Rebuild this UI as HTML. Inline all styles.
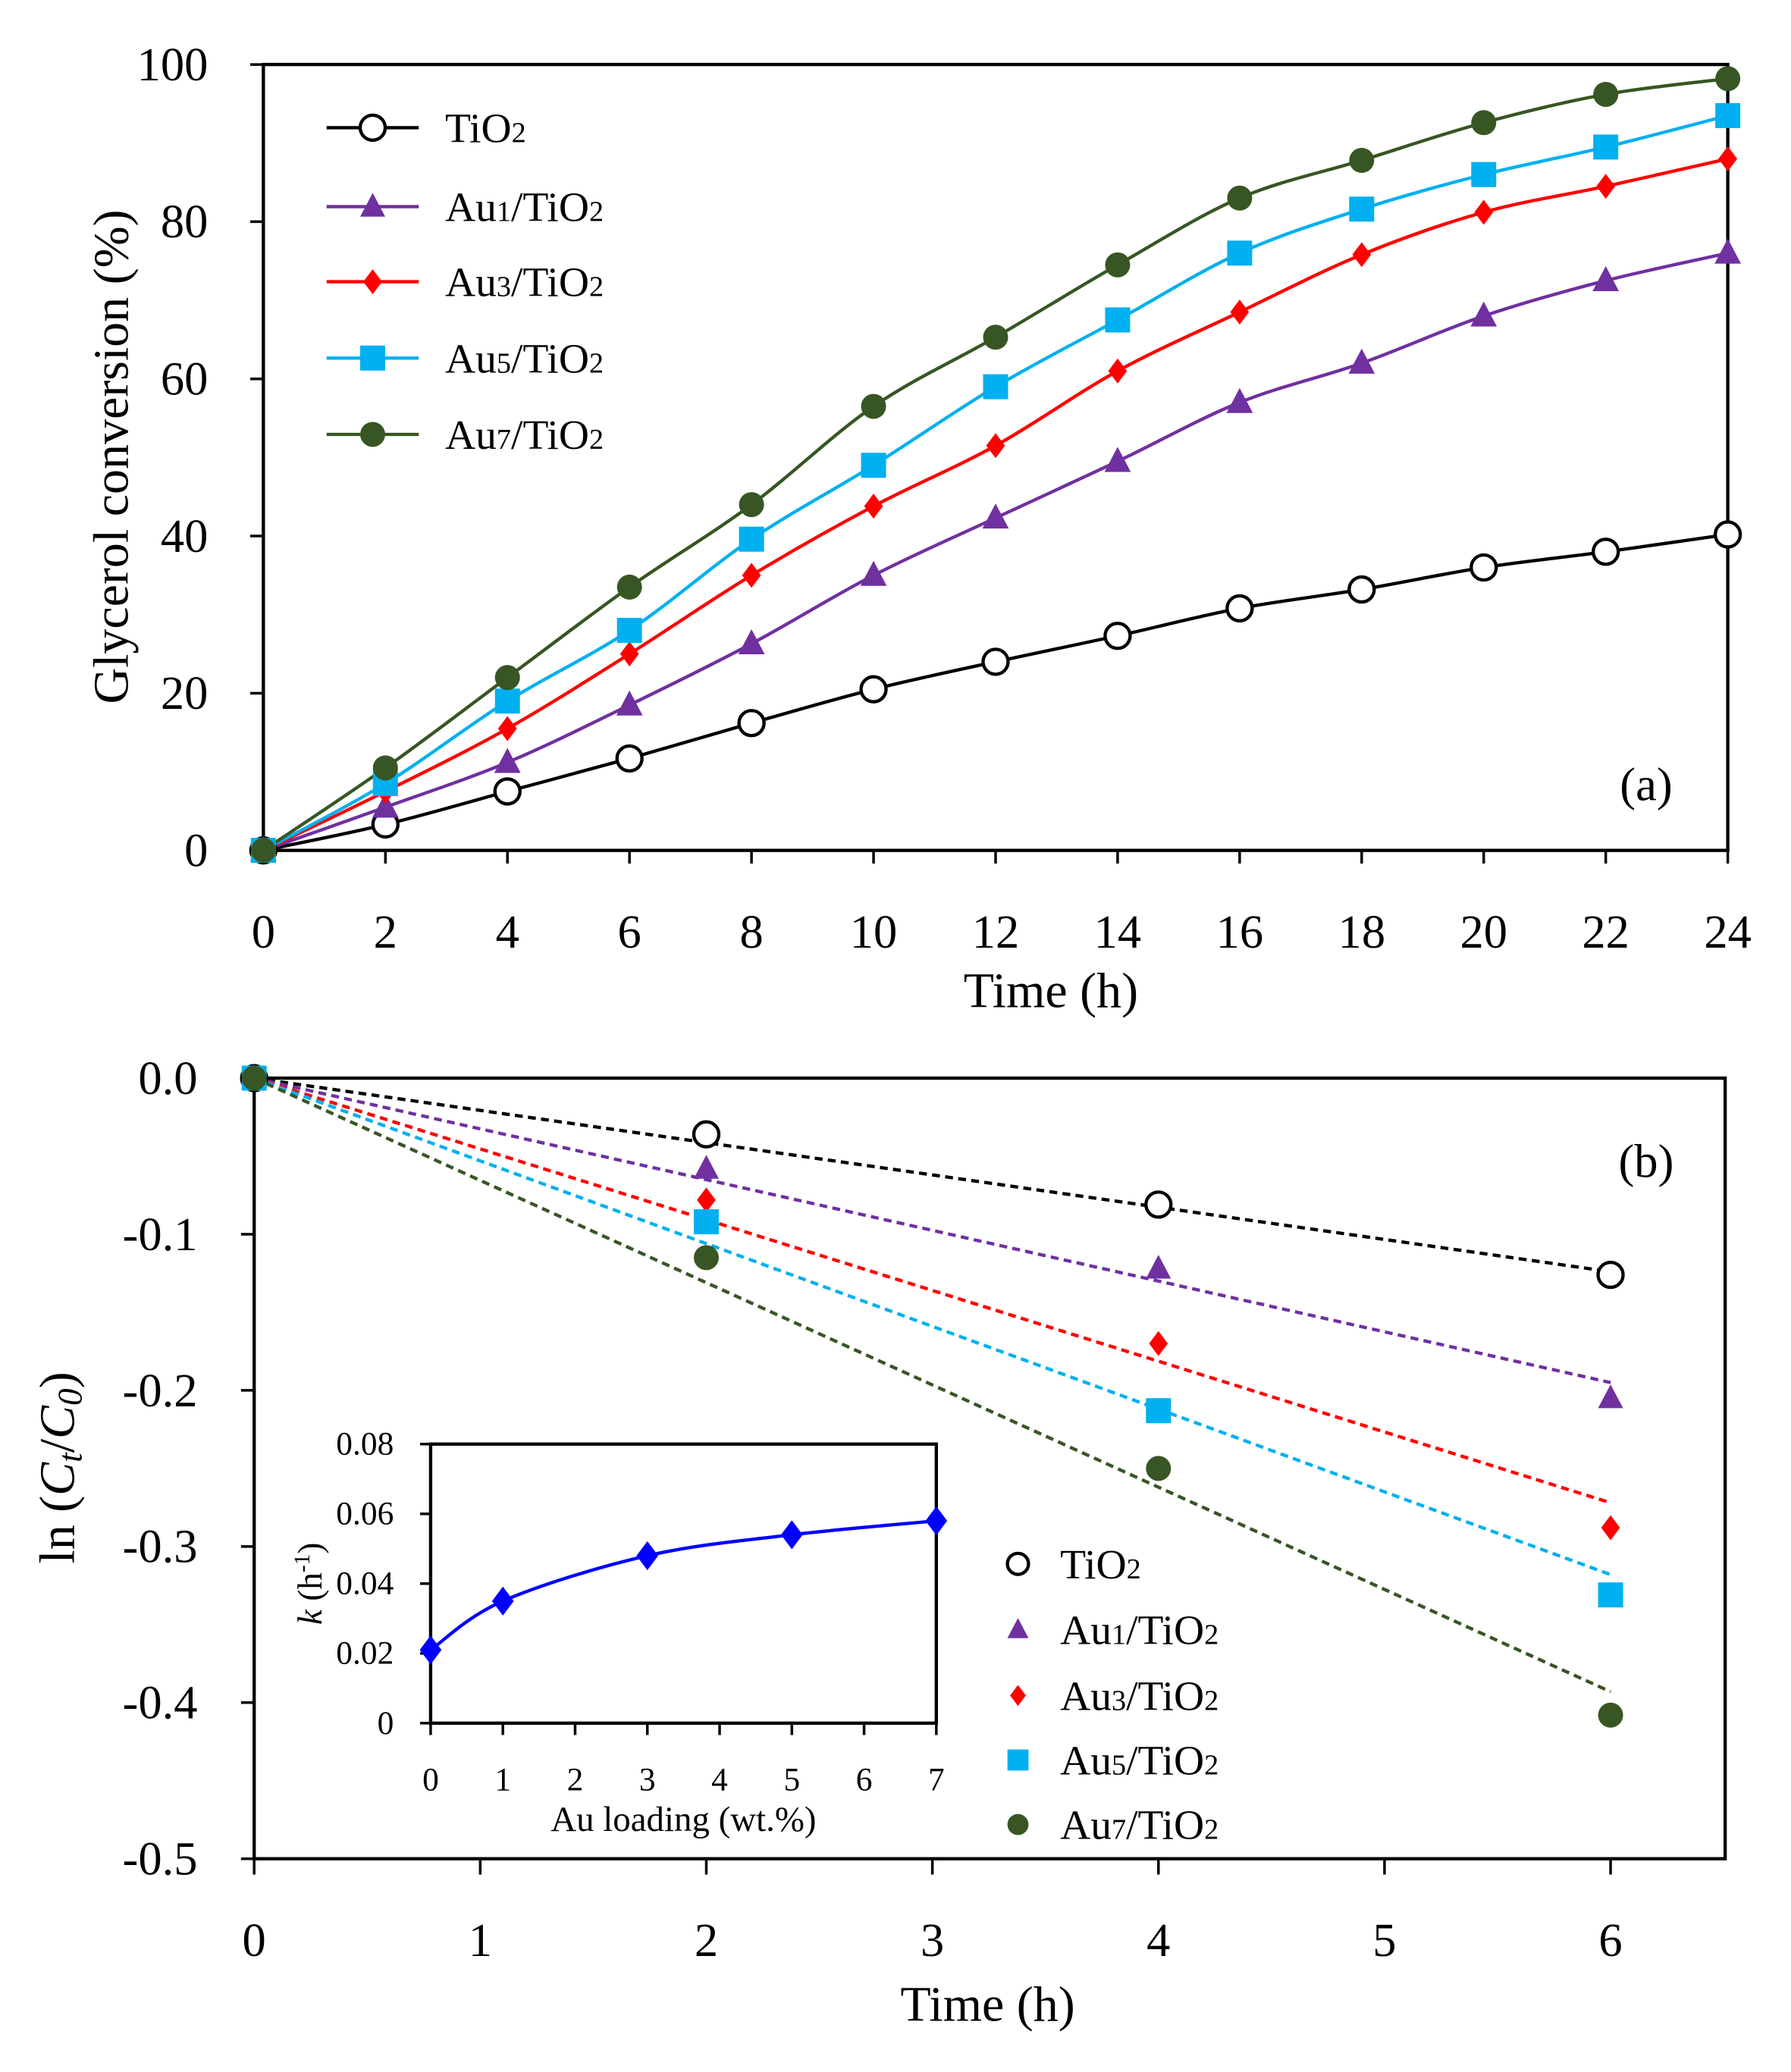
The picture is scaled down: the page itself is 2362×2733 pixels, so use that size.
<!DOCTYPE html>
<html><head><meta charset="utf-8"><style>
html,body{margin:0;padding:0;background:#fff}
svg{display:block}
text{font-family:"Liberation Serif",serif;fill:#000}
</style></head><body>
<svg id="s" width="2362" height="2733" viewBox="0 0 1360 1574" preserveAspectRatio="none" xmlns="http://www.w3.org/2000/svg"></svg>
<script>
const S=document.getElementById('s');let h='';
function cr(p){let d='M'+p[0][0]+','+p[0][1];for(let i=0;i<p.length-1;i++){const p0=p[i-1]||p[i],p1=p[i],p2=p[i+1],p3=p[i+2]||p2;const t=1/6;d+=' C'+(p1[0]+(p2[0]-p0[0])*t)+','+(p1[1]+(p2[1]-p0[1])*t)+' '+(p2[0]-(p3[0]-p1[0])*t)+','+(p2[1]-(p3[1]-p1[1])*t)+' '+p2[0]+','+p2[1];}return d;}
function mk(t,x,y,c,r){r=r||9;
 if(t=='o')return `<circle cx="${x}" cy="${y}" r="${r}" fill="#fff" stroke="#000" stroke-width="2.5"/>`;
 if(t=='t')return `<polygon points="${x},${y-r*1.1} ${x-r},${y+r*0.8} ${x+r},${y+r*0.8}" fill="${c}"/>`;
 if(t=='d')return `<polygon points="${x},${y-r} ${x-r*0.75},${y} ${x},${y+r} ${x+r*0.75},${y}" fill="${c}"/>`;
 if(t=='s')return `<rect x="${x-r}" y="${y-r}" width="${2*r}" height="${2*r}" fill="${c}"/>`;
 return `<circle cx="${x}" cy="${y}" r="${r}" fill="${c}"/>`;}
const ser=[['o','#000','#000'],['t','#7030a0','#7030a0'],['d','#ff0000','#ff0000'],['s','#00b0f0','#00b0f0'],['c','#375623','#375623']];
const names=['TiO<tspan font-size="22">2</tspan>','Au<tspan font-size="22">1</tspan>/TiO<tspan font-size="22">2</tspan>','Au<tspan font-size="22">3</tspan>/TiO<tspan font-size="22">2</tspan>','Au<tspan font-size="22">5</tspan>/TiO<tspan font-size="22">2</tspan>','Au<tspan font-size="22">7</tspan>/TiO<tspan font-size="22">2</tspan>'];
// plot a
const ax=t=>200+t/24*1112, ay=v=>646-v/100*597;
const A=[[0,3.3,7.5,11.7,16.2,20.5,24,27.3,30.8,33.2,36,38,40.2],[0,5.5,11.2,18.5,26.3,35,42.3,49.5,57,62,68,72.5,76],[0,7.5,15.5,25,35,43.8,51.5,61,68.5,75.8,81.2,84.5,88],[0,8.5,19,28,39.6,49,59,67.5,76,81.6,86,89.5,93.5],[0,10.5,22,33.5,44,56.5,65.3,74.5,83,87.8,92.6,96.2,98.2]];
h+=`<rect x="200" y="49" width="1112" height="597" fill="none" stroke="#000" stroke-width="2.5"/>`;
for(let i=0;i<=12;i++){const x=ax(i*2);h+=`<line x1="${x}" y1="646" x2="${x}" y2="656" stroke="#000" stroke-width="2"/><text x="${x}" y="720" font-size="36" text-anchor="middle">${i*2}</text>`;}
for(let v=0;v<=100;v+=20){const y=ay(v);h+=`<line x1="190" y1="${y}" x2="200" y2="${y}" stroke="#000" stroke-width="2"/><text x="158" y="${y+12}" font-size="36" text-anchor="end">${v}</text>`;}
h+=`<text x="798" y="765" font-size="38" text-anchor="middle">Time (h)</text>`;
h+=`<text transform="translate(97,347) rotate(-90)" font-size="38" text-anchor="middle">Glycerol conversion (%)</text>`;
h+=`<text x="1250" y="608" font-size="36" text-anchor="middle">(a)</text>`;
A.forEach((d,k)=>{const p=d.map((v,i)=>[ax(i*2),ay(v)]);h+=`<path d="${cr(p)}" fill="none" stroke="${ser[k][1]}" stroke-width="2.5"/>`;});
A.forEach((d,k)=>{d.forEach((v,i)=>{h+=mk(ser[k][0],ax(i*2),ay(v),ser[k][2],ser[k][0]=='t'?10:9.5)});});
[97,157,214,272,330].forEach((y,k)=>{h+=`<line x1="248" y1="${y}" x2="318" y2="${y}" stroke="${ser[k][1]}" stroke-width="2.5"/>`+mk(ser[k][0],283,y,ser[k][2],9.5)+`<text x="338" y="${y+11}" font-size="32">${names[k]}</text>`;});
// plot b
const bx=t=>193+t/6*1030, by=v=>819-v*1186;
h+=`<rect x="193" y="819" width="1117" height="593" fill="none" stroke="#000" stroke-width="2.5"/>`;
for(let i=0;i<=6;i++){const x=bx(i);h+=`<line x1="${x}" y1="1412" x2="${x}" y2="1424" stroke="#000" stroke-width="2"/><text x="${x}" y="1486" font-size="36" text-anchor="middle">${i}</text>`;}
['0.0','-0.1','-0.2','-0.3','-0.4','-0.5'].forEach((l,i)=>{const y=by(-i*0.1);h+=`<line x1="183" y1="${y}" x2="193" y2="${y}" stroke="#000" stroke-width="2"/><text x="150" y="${y+12}" font-size="36" text-anchor="end">${l}</text>`;});
h+=`<text x="750" y="1535" font-size="38" text-anchor="middle">Time (h)</text>`;
h+=`<text transform="translate(56,1115) rotate(-90)" font-size="38" text-anchor="middle">ln (<tspan font-style="italic">C<tspan font-size="26" dy="6">t</tspan></tspan><tspan dy="-6">/</tspan><tspan font-style="italic">C<tspan font-size="26" dy="6">0</tspan></tspan><tspan dy="-6">)</tspan></text>`;
h+=`<text x="1250" y="894" font-size="36" text-anchor="middle">(b)</text>`;
const B=[[-0.036,-0.081,-0.126,-0.124],[-0.058,-0.122,-0.205,-0.195],[-0.078,-0.170,-0.288,-0.272],[-0.092,-0.213,-0.331,-0.318],[-0.115,-0.25,-0.408,-0.393]];
const lc=['#000','#7030a0','#ff0000','#00b0f0','#375623'];
B.forEach((d,k)=>{h+=`<line x1="${bx(0)}" y1="${by(0)}" x2="${bx(6)}" y2="${by(d[3])}" stroke="${lc[k]}" stroke-width="2.5" stroke-dasharray="6,4"/>`;});
B.forEach((d,k)=>{h+=mk(ser[k][0],bx(0),by(0),ser[k][2],9.5);[2,4,6].forEach((t,i)=>{h+=mk(ser[k][0],bx(t),by(d[i]),ser[k][2],9.5)});});
[1188,1238,1288,1337,1386].forEach((y,k)=>{h+=mk(ser[k][0],773,y,ser[k][2],8)+`<text x="805" y="${y+11}" font-size="32">${names[k]}</text>`;});
// inset
const ix=t=>327+t/7*384, iy=v=>1309-v/0.08*212;
h+=`<rect x="327" y="1097" width="384" height="212" fill="none" stroke="#000" stroke-width="2.5"/>`;
for(let i=0;i<=7;i++){const x=ix(i);h+=`<line x1="${x}" y1="1309" x2="${x}" y2="1318" stroke="#000" stroke-width="2"/><text x="${x}" y="1360" font-size="25" text-anchor="middle">${i}</text>`;}
['0','0.02','0.04','0.06','0.08'].forEach((l,i)=>{const y=iy(i*0.02);h+=`<line x1="319" y1="${y}" x2="327" y2="${y}" stroke="#000" stroke-width="2"/><text x="299" y="${y+8}" font-size="25" text-anchor="end">${l}</text>`;});
h+=`<text x="519" y="1391" font-size="27" text-anchor="middle">Au loading (wt.%)</text>`;
h+=`<text transform="translate(244,1203) rotate(-90)" font-size="26" text-anchor="middle"><tspan font-style="italic">k</tspan> (h<tspan font-size="17" dy="-9">-1</tspan><tspan dy="9">)</tspan></text>`;
const K=[[0,0.021],[1,0.035],[3,0.048],[5,0.054],[7,0.058]].map(a=>[ix(a[0]),iy(a[1])]);
h+=`<path d="${cr(K)}" fill="none" stroke="#0000ff" stroke-width="2.5"/>`;
K.forEach(p=>{h+=mk('d',p[0],p[1],'#0000ff',11)});
S.innerHTML=h;
</script>
</body></html>
